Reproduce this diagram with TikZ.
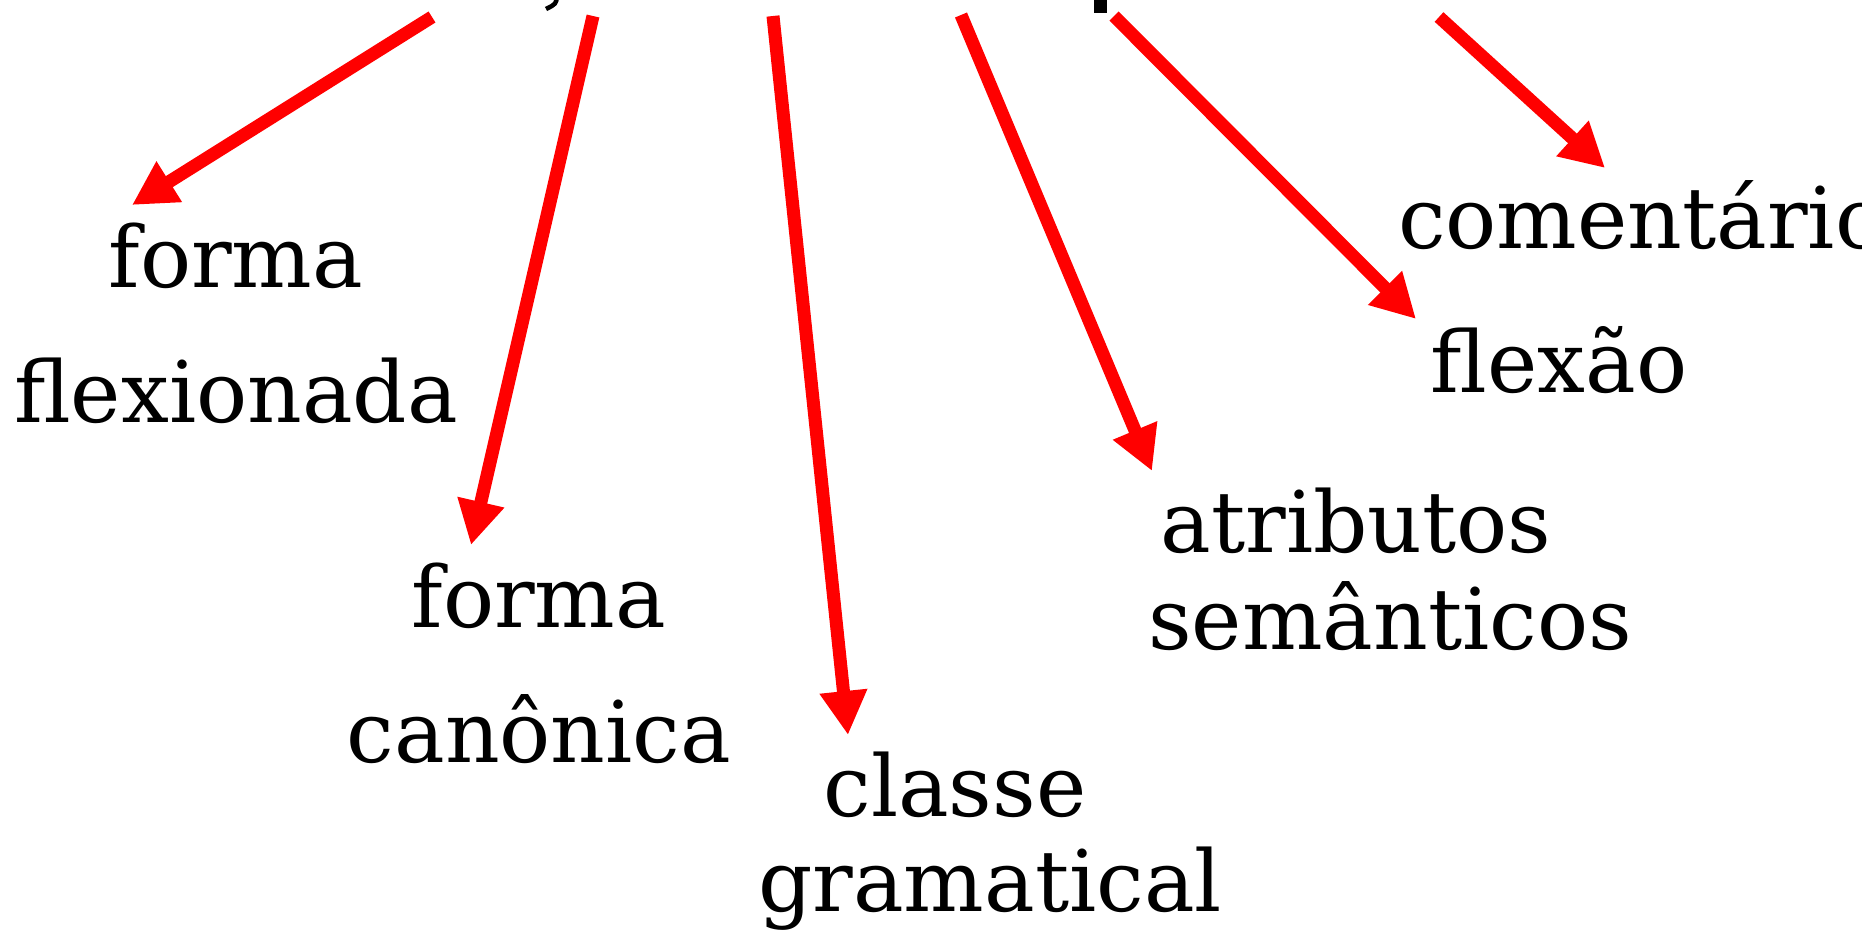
\documentclass[tikz,border=0pt]{standalone}
\usepackage{fontspec}
\setmainfont{DejaVu Serif}
\usetikzlibrary{arrows.meta}
\definecolor{arrowred}{RGB}{255,0,0}
\tikzset{
  lbl/.style={anchor=base, inner sep=0pt, outer sep=0pt, font=\fontsize{85}{100}\selectfont},
  redarrow/.style={draw=arrowred, line width=13pt, line cap=butt,
    -{Triangle[length=44pt,width=45pt]}, color=arrowred}
}
\begin{document}
\begin{tikzpicture}[x=1pt,y=-1pt]
\useasboundingbox (0,0) rectangle (1862,930);
\begin{scope}
\clip (0,0) rectangle (1862,930);
% cut-off fragments of the title above the picture
\draw[line width=4.5pt] (557,-4) .. controls (556,4) .. (546,9);
\fill (1094,-2) rectangle (1107,13);
% labels
\node[lbl] (forma1) at (236,287) {forma};
\node[lbl] (flexionada) at (236,422) {flexionada};
\node[lbl] (forma2) at (539,627) {forma};
\node[lbl] (canonica) at (539,762) {canônica};
\node[lbl] (classe) at (955,816) {classe};
\node[lbl] (gramatical) at (990,911) {gramatical};
\node[lbl] (atributos) at (1356,552) {atributos};
\node[lbl] (semanticos) at (1390,649) {semânticos};
\node[lbl, anchor=base west] (comentario) at (1398,248) {comentário};
\node[lbl] (flexao) at (1559,392) {flexão};
% arrow end points
\coordinate (s1) at (432,17);  \coordinate (t1) at (132,205);
\coordinate (s2) at (593,16);  \coordinate (t2) at (471,545);
\coordinate (s3) at (773,16);  \coordinate (t3) at (848,735);
\coordinate (s4) at (961,15);  \coordinate (t4) at (1152,471);
\coordinate (s5) at (1114,16); \coordinate (t5) at (1416,319);
\coordinate (s6) at (1439,17); \coordinate (t6) at (1605,168);
\foreach \i in {1,...,6} {
  \draw[redarrow] (s\i) -- (t\i);
}
\end{scope}
\end{tikzpicture}
\end{document}
